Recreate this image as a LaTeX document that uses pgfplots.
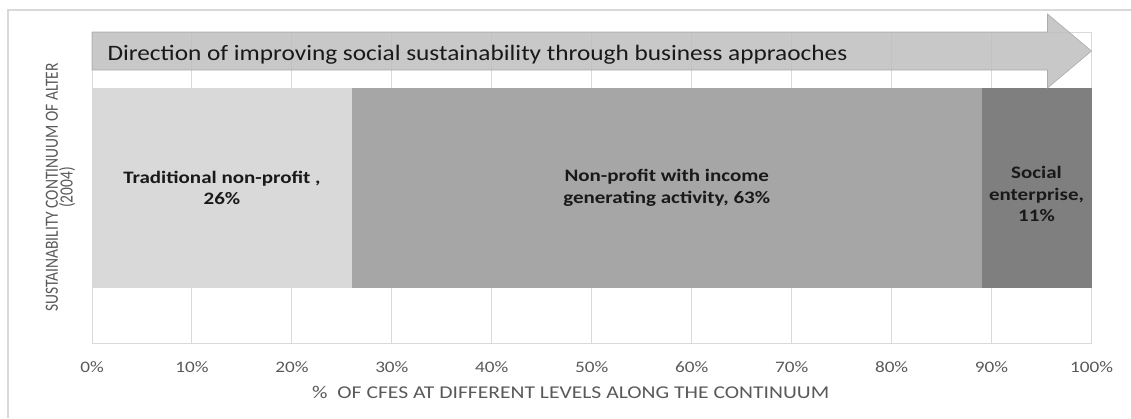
\documentclass[border=0pt]{standalone}
\usepackage{fontspec}
\setmainfont{Carlito}
\newfontfamily\widefont[FakeStretch=1.2]{Carlito}
\newfontfamily\titlefont[FakeStretch=1.15]{Carlito}
\usepackage{pgfplots}
\pgfplotsset{compat=1.18}
\definecolor{segA}{RGB}{217,217,217}
\definecolor{segB}{RGB}{166,166,166}
\definecolor{segC}{RGB}{127,127,127}
\definecolor{gridc}{RGB}{217,217,217}
\definecolor{txtgray}{RGB}{89,89,89}
\definecolor{arrowc}{RGB}{190,190,190}
\definecolor{arrowedge}{RGB}{172,172,172}
\begin{document}
\begin{tikzpicture}
\useasboundingbox (0,0) rectangle (1131pt,418pt);
\draw[gridc, line width=1.5pt] (8pt,0pt) -- (8pt,408pt) -- (1131pt,408pt);
\begin{axis}[
 at={(92pt,75pt)}, anchor=south west,
 width=999.5pt, height=311pt, scale only axis,
 xmin=0, xmax=100, ymin=-0.775, ymax=0.78,
 xbar stacked, bar width=1,
 ytick=\empty,
 xtick={0,10,...,100},
 xticklabel={\pgfmathprintnumber{\tick}\%},
 /pgf/number format/assume math mode=true,
 xticklabel style={anchor=center, yshift=-24pt, font=\widefont\fontsize{16}{19}\selectfont, text=txtgray},
 major tick length=0pt,
 xmajorgrids, grid style={gridc, line width=1pt},
 axis line style={gridc, line width=1pt},
 clip=false,
]
\addplot[fill=segA, draw=none] coordinates {(26,0)};
\addplot[fill=segB, draw=none] coordinates {(63,0)};
\addplot[fill=segC, draw=none] coordinates {(11,0)};
\end{axis}
\begin{axis}[
 at={(92pt,75pt)}, anchor=south west,
 width=999.5pt, height=311pt, scale only axis,
 xmin=0, xmax=100, ymin=-0.775, ymax=0.78,
 hide axis, clip=false,
]
\addplot[fill=arrowc, fill opacity=0.85, draw=arrowedge, line width=0.6pt] coordinates {(0,0.59) (95.6,0.59) (95.6,0.5) (100,0.685) (95.6,0.87) (95.6,0.78) (0,0.78)} -- cycle;
\node[anchor=base west, font=\titlefont\fontsize{22}{26}\selectfont, text=black!90] at (axis cs:1.2,0.64) {Direction of improving social sustainability through business appraoches};
\node[align=center, font=\widefont\bfseries\fontsize{17.5}{21.5}\selectfont, text=black!90] at (axis cs:13,0.0) {Traditional non-profit ,\\26\%};
\node[align=center, font=\widefont\bfseries\fontsize{17.5}{21.5}\selectfont, text=black!90] at (axis cs:57.5,0.0) {Non-profit with income\\generating activity, 63\%};
\node[align=center, font=\widefont\bfseries\fontsize{17.5}{21.5}\selectfont, text=black!90] at (axis cs:94.5,-0.03) {Social\\enterprise,\\11\%};
\node[anchor=center, font=\widefont\fontsize{18}{21}\selectfont, text=txtgray] at ([yshift=-49pt]rel axis cs:0.479,0) {\%~~OF CFES AT DIFFERENT LEVELS ALONG THE CONTINUUM};
\node[rotate=90, anchor=center, font=\fontsize{15.5}{19}\selectfont, text=txtgray] at ([xshift=-40pt]rel axis cs:0,0.5) {\scalebox{1}[1.2]{SUSTAINABILITY CONTINUUM OF ALTER}};
\node[rotate=90, anchor=center, font=\fontsize{15.5}{19}\selectfont, text=txtgray] at ([xshift=-25pt]rel axis cs:0,0.5) {\scalebox{1}[1.2]{(2004)}};
\end{axis}
\end{tikzpicture}
\end{document}
